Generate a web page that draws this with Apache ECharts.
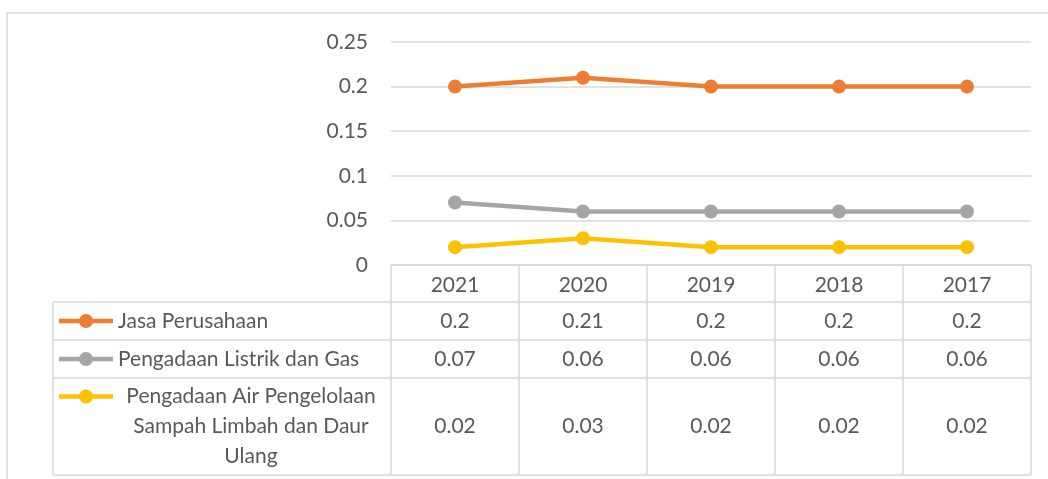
<!DOCTYPE html>
<html>
<head>
<meta charset="utf-8">
<script src="https://cdn.jsdelivr.net/npm/echarts@6/dist/echarts.min.js"></script>
<style>
  html, body { margin: 0; padding: 0; background: #fff; }
  #chart { width: 1048px; height: 479px; }
</style>
</head>
<body>
<div id="chart"></div>
<script>
// data
const years = ["2021", "2020", "2019", "2018", "2017"];
const jasaPerusahaan = [0.2, 0.21, 0.2, 0.2, 0.2];
const listrikGas = [0.07, 0.06, 0.06, 0.06, 0.06];
const airLimbah = [0.02, 0.03, 0.02, 0.02, 0.02];
const seriesNames = [
  "Jasa Perusahaan",
  "Pengadaan Listrik dan Gas",
  "Pengadaan Air Pengelolaan Sampah Limbah dan Daur Ulang",
];
// legend text lines as shown in the table
const legendLines = [
  ["Jasa Perusahaan"],
  ["Pengadaan Listrik dan Gas"],
  ["Pengadaan Air Pengelolaan", "Sampah Limbah dan Daur", "Ulang"],
];
const yMin = 0, yMax = 0.25, yStep = 0.05;

const colors = ["#ED7D31", "#A5A5A5", "#FFC000"];
const seriesData = [jasaPerusahaan, listrikGas, airLimbah];
const FONT = "Lato";
const FS = 21;
const TXT = "#595959";
const GRIDC = "#d9d9d9";

const chart = echarts.init(document.getElementById("chart"));

const option = {
  animation: false,
  textStyle: { fontFamily: FONT },
  grid: { left: 391, right: 17, top: 42, bottom: 214 },
  xAxis: {
    type: "category",
    data: years,
    boundaryGap: true,
    axisLine: { show: false },
    axisTick: { show: false },
    axisLabel: { color: TXT, fontSize: FS, fontFamily: FONT, margin: 10 },
  },
  yAxis: {
    type: "value",
    min: yMin,
    max: yMax,
    interval: yStep,
    axisLine: { show: false },
    axisTick: { show: false },
    axisLabel: {
      color: TXT,
      fontSize: FS,
      fontFamily: FONT,
      margin: 23,
      formatter: (v) => String(+v.toFixed(2)),
    },
    splitLine: { lineStyle: { color: GRIDC, width: 1.5 } },
  },
  series: seriesData.map((d, i) => ({
    name: seriesNames[i],
    type: "line",
    data: d,
    symbol: "circle",
    symbolSize: 14,
    lineStyle: { color: colors[i], width: 4.5 },
    itemStyle: { color: colors[i] },
  })),
};

chart.setOption(option);

// data table under the plot, laid out from the x axis scale
const x0 = chart.convertToPixel({ xAxisIndex: 0 }, 0);
const x1 = chart.convertToPixel({ xAxisIndex: 0 }, 1);
const band = x1 - x0;
const left = x0 - band / 2;
const right = left + band * years.length;
const yTop = chart.convertToPixel({ yAxisIndex: 0 }, 0);
const rowEdges = [yTop, 302, 340, 378, 475];
const tableLeft = 53;

const g = [];
const line = (xa, ya, xb, yb) =>
  g.push({ type: "line", shape: { x1: xa, y1: ya, x2: xb, y2: yb }, style: { stroke: GRIDC, lineWidth: 1.5 }, silent: true });

// outer frame
g.push({ type: "rect", shape: { x: 7, y: 13, width: 1100, height: 500 }, style: { fill: null, stroke: GRIDC, lineWidth: 1.5 }, silent: true });

line(left, rowEdges[0], right, rowEdges[0]);
for (let r = 1; r < rowEdges.length; r++) line(tableLeft, rowEdges[r], right, rowEdges[r]);
line(tableLeft, rowEdges[1], tableLeft, rowEdges[4]);
for (let c = 0; c <= years.length; c++) line(left + c * band, rowEdges[0], left + c * band, rowEdges[4]);

seriesData.forEach((d, i) => {
  const top = rowEdges[i + 1], bot = rowEdges[i + 2];
  const mid = (top + bot) / 2;
  const lines = legendLines[i];
  const lh = 30;
  const firstY = mid - ((lines.length - 1) * lh) / 2;
  // legend key
  g.push({ type: "line", shape: { x1: 59, y1: firstY, x2: 113, y2: firstY }, style: { stroke: colors[i], lineWidth: 4.5 }, silent: true });
  g.push({ type: "circle", shape: { cx: 86, cy: firstY, r: 7 }, style: { fill: colors[i] }, silent: true });
  // legend text
  lines.forEach((t, k) => {
    const multi = lines.length > 1;
    g.push({
      type: "text",
      x: multi ? 251 : 118,
      y: firstY + k * lh,
      style: { text: t, fill: TXT, font: FS + "px " + FONT, textAlign: multi ? "center" : "left", textVerticalAlign: "middle" },
      silent: true,
    });
  });
  // values
  d.forEach((v, c) => {
    g.push({
      type: "text",
      x: chart.convertToPixel({ xAxisIndex: 0 }, c),
      y: mid,
      style: { text: String(v), fill: TXT, font: FS + "px " + FONT, textAlign: "center", textVerticalAlign: "middle" },
      silent: true,
    });
  });
});

chart.setOption({ graphic: g });

window.addEventListener("resize", () => chart.resize());
</script>
</body>
</html>
